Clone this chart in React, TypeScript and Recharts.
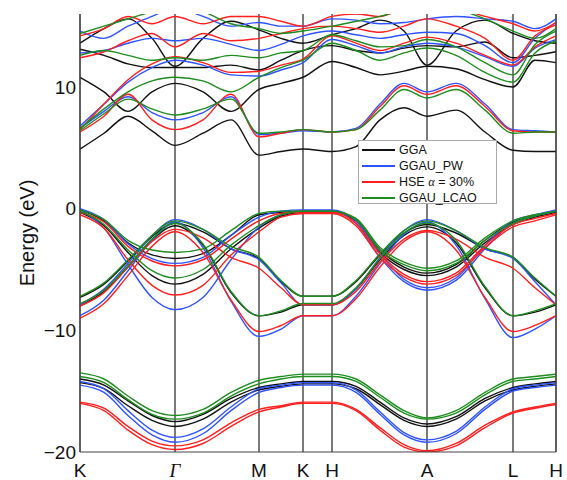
import React from "react";
import { LineChart, Line, XAxis, YAxis, ReferenceLine } from "recharts";

// k-path sample positions (arbitrary path units), high-symmetry points and labels
const kPoints = [0, 24, 48, 72, 95, 123, 151, 179, 201, 223, 252, 276, 300, 324, 347, 376, 405, 433, 455, 476];
const symPoints = [0, 95, 179, 223, 252, 347, 433, 476];
const symLabels = ["K", "Γ", "M", "K", "H", "A", "L", "H"];
const yLabelTicks = [-20, -10, 0, 10];
const yMinorTicks = [-20, -15, -10, -5, 0, 5, 10, 15];

// GGA (black)
const ggaV1 = [-14.0, -14.5, -15.8, -17.0, -17.5, -16.9, -15.6, -14.7, -14.4, -14.2, -14.2, -14.6, -15.9, -17.2, -17.7, -17.1, -15.6, -14.7, -14.4, -14.2];
const ggaV2 = [-14.3, -14.8, -16.2, -17.4, -17.9, -17.3, -15.9, -14.9, -14.6, -14.4, -14.4, -14.8, -16.1, -17.4, -17.9, -17.3, -15.8, -14.9, -14.6, -14.4];
const ggaV3 = [-7.3, -6.2, -4.3, -2.3, -1.2, -1.9, -3.3, -4.1, -6.0, -7.2, -7.2, -6.0, -3.8, -2.0, -1.3, -2.0, -3.3, -4.0, -5.8, -7.2];
const ggaV4 = [-8.0, -6.8, -4.8, -2.6, -1.4, -3.0, -6.9, -8.8, -8.5, -7.9, -7.9, -6.6, -4.2, -2.2, -1.5, -2.8, -6.5, -8.8, -8.5, -7.9];
const ggaV5 = [-0.1, -1.0, -2.8, -3.8, -4.1, -3.7, -2.2, -0.5, -0.3, -0.2, -0.2, -0.9, -3.4, -4.8, -5.3, -4.6, -2.6, -1.1, -0.6, -0.2];
const ggaV6 = [-0.3, -1.4, -3.6, -5.5, -6.2, -5.4, -3.3, -1.6, -0.6, -0.3, -0.3, -1.0, -3.6, -5.0, -5.5, -4.8, -2.8, -1.3, -0.7, -0.3];
const ggaC1 = [4.9, 6.2, 7.6, 6.4, 5.2, 6.2, 7.3, 4.4, 4.7, 4.9, 4.7, 5.1, 7.3, 8.3, 7.6, 8.1, 6.3, 4.8, 4.7, 4.7];
const ggaC2 = [10.8, 9.6, 8.0, 9.6, 10.3, 9.6, 8.0, 9.8, 10.3, 10.8, 12.1, 11.6, 11.0, 11.3, 11.7, 11.5, 10.6, 10.0, 12.2, 12.0];
const ggaC3 = [13.1, 12.6, 11.9, 11.6, 11.6, 11.6, 11.8, 11.4, 12.2, 13.0, 13.4, 13.0, 12.8, 13.2, 13.4, 13.3, 13.7, 12.4, 12.6, 12.9];
const ggaC4 = [13.6, 14.8, 15.6, 14.0, 11.7, 14.0, 15.4, 14.7, 14.0, 13.6, 14.3, 14.8, 15.5, 14.6, 11.8, 14.6, 15.5, 14.4, 13.8, 13.6];

// GGAU_PW (blue)
const pwV1 = [-14.2, -14.8, -16.6, -18.2, -18.8, -18.1, -16.3, -14.8, -14.5, -14.3, -14.3, -14.9, -16.7, -18.4, -19.0, -18.3, -16.3, -14.8, -14.5, -14.3];
const pwV2 = [-14.5, -15.1, -17.0, -18.6, -19.2, -18.5, -16.6, -15.1, -14.7, -14.5, -14.5, -15.1, -16.9, -18.6, -19.2, -18.5, -16.5, -15.0, -14.7, -14.5];
const pwV3 = [-7.9, -6.6, -4.5, -2.2, -0.9, -1.7, -3.3, -4.2, -6.1, -7.9, -7.9, -6.6, -4.0, -1.8, -0.9, -1.8, -3.3, -4.1, -6.0, -7.9];
const pwV4 = [-8.8, -7.5, -5.1, -2.6, -1.1, -3.2, -7.6, -10.5, -9.9, -8.8, -8.8, -7.2, -4.5, -2.1, -1.1, -3.0, -7.4, -10.6, -9.9, -8.8];
const pwV5 = [0.0, -0.9, -2.9, -4.1, -4.5, -4.0, -2.2, -0.7, -0.2, -0.1, -0.1, -1.0, -3.7, -5.8, -6.5, -5.7, -3.0, -1.0, -0.5, -0.1];
const pwV6 = [-0.1, -1.6, -4.6, -7.3, -8.3, -7.3, -4.2, -1.5, -0.5, -0.2, -0.2, -1.2, -4.0, -6.0, -6.7, -5.9, -3.3, -1.2, -0.6, -0.2];
const pwC1 = [6.6, 8.0, 9.2, 7.9, 7.3, 7.9, 9.2, 6.1, 6.2, 6.4, 6.3, 6.6, 8.6, 10.3, 9.6, 10.3, 8.6, 6.5, 6.4, 6.3];
const pwC2 = [6.8, 8.6, 10.4, 11.6, 12.2, 11.8, 11.0, 10.9, 11.4, 12.0, 13.9, 13.4, 12.8, 13.3, 13.6, 13.3, 12.5, 11.7, 13.2, 13.9];
const pwC3 = [12.8, 13.0, 13.6, 14.0, 13.8, 14.0, 13.5, 13.0, 13.5, 14.2, 14.6, 14.3, 14.0, 14.3, 14.5, 14.4, 13.4, 12.0, 14.0, 15.3];
const pwC4 = [14.6, 14.0, 15.0, 15.8, 16.5, 15.8, 15.0, 15.3, 15.0, 15.0, 15.6, 15.5, 15.2, 15.3, 15.6, 15.8, 15.6, 15.4, 14.8, 15.6];

// HSE alpha = 30% (red)
const hseV1 = [-15.9, -16.4, -17.9, -19.1, -19.5, -19.0, -17.6, -16.5, -16.2, -15.9, -15.9, -16.5, -18.0, -19.4, -19.9, -19.3, -17.8, -16.7, -16.3, -16.0];
const hseV2 = [-16.0, -16.6, -18.2, -19.4, -19.8, -19.3, -17.9, -16.7, -16.3, -16.0, -16.0, -16.6, -18.2, -19.6, -20.0, -19.5, -18.0, -16.8, -16.4, -16.1];
const hseV3 = [-8.0, -6.9, -4.8, -2.7, -1.7, -2.4, -4.0, -4.9, -6.5, -7.9, -7.9, -6.8, -4.4, -2.5, -1.8, -2.5, -4.0, -4.9, -6.5, -7.9];
const hseV4 = [-9.0, -7.8, -5.5, -3.1, -1.9, -3.6, -7.5, -10.1, -9.6, -8.8, -8.8, -7.4, -4.8, -2.7, -1.9, -3.4, -7.3, -10.1, -9.6, -8.8];
const hseV5 = [-0.3, -1.1, -3.1, -4.3, -4.7, -4.2, -2.5, -1.0, -0.4, -0.3, -0.3, -1.2, -3.7, -5.4, -6.0, -5.3, -3.0, -1.3, -0.8, -0.4];
const hseV6 = [-0.5, -1.6, -4.2, -6.3, -7.1, -6.3, -3.8, -1.9, -0.7, -0.4, -0.4, -1.4, -4.0, -5.6, -6.2, -5.5, -3.2, -1.5, -1.0, -0.5];
const hseC1 = [6.3, 7.6, 9.4, 7.3, 6.5, 7.3, 9.4, 5.9, 6.2, 6.5, 6.3, 6.5, 8.4, 10.1, 9.4, 10.1, 8.4, 6.4, 6.3, 6.3];
const hseC2 = [6.5, 8.6, 10.6, 11.9, 12.5, 12.0, 11.2, 11.3, 11.8, 12.3, 14.2, 13.6, 13.0, 13.6, 14.1, 13.6, 12.6, 11.8, 13.3, 14.2];
const hseC3 = [12.4, 12.9, 13.8, 14.4, 13.3, 14.4, 13.8, 14.0, 14.4, 14.8, 15.0, 14.8, 14.5, 15.0, 15.6, 15.0, 14.0, 12.2, 14.2, 15.1];
const hseC4 = [14.2, 14.8, 15.8, 15.2, 15.8, 15.2, 15.8, 15.8, 15.4, 15.0, 15.8, 16.0, 15.8, 16.4, 16.5, 16.4, 15.8, 15.2, 14.6, 15.3];

// GGAU_LCAO (green)
const lcaoV1 = [-13.5, -14.0, -15.4, -16.6, -17.0, -16.5, -15.1, -14.1, -13.8, -13.6, -13.6, -14.0, -15.3, -16.6, -17.2, -16.6, -15.1, -14.0, -13.8, -13.6];
const lcaoV2 = [-13.8, -14.3, -15.7, -16.9, -17.3, -16.8, -15.4, -14.4, -14.0, -13.8, -13.8, -14.2, -15.5, -16.8, -17.3, -16.8, -15.3, -14.2, -14.0, -13.8];
const lcaoV3 = [-7.2, -6.1, -4.2, -2.2, -1.0, -1.7, -3.1, -4.0, -5.9, -7.2, -7.2, -5.9, -3.7, -1.8, -1.0, -1.8, -3.2, -4.0, -5.7, -7.2];
const lcaoV4 = [-7.8, -6.7, -4.7, -2.5, -1.2, -2.9, -6.8, -8.8, -8.4, -7.8, -7.8, -6.5, -4.1, -2.0, -1.2, -2.6, -6.4, -8.8, -8.4, -7.8];
const lcaoV5 = [-0.1, -0.9, -2.6, -3.4, -3.6, -3.3, -1.8, -0.4, -0.2, -0.2, -0.2, -0.8, -3.2, -4.4, -4.9, -4.3, -2.4, -1.0, -0.5, -0.2];
const lcaoV6 = [-0.2, -1.3, -3.4, -5.1, -5.7, -5.0, -3.0, -1.4, -0.5, -0.2, -0.2, -0.9, -3.4, -4.6, -5.1, -4.5, -2.6, -1.2, -0.6, -0.2];
const lcaoC1 = [6.4, 7.8, 9.0, 8.2, 7.7, 8.2, 9.0, 6.2, 6.3, 6.5, 6.3, 6.5, 8.1, 9.8, 9.1, 9.8, 8.1, 6.2, 6.3, 6.3];
const lcaoC2 = [6.6, 8.2, 9.6, 10.5, 10.8, 10.5, 9.6, 10.8, 11.6, 12.2, 13.6, 13.0, 12.2, 12.8, 13.2, 12.6, 11.2, 10.4, 12.8, 13.8];
const lcaoC3 = [12.6, 13.0, 12.6, 12.2, 12.4, 12.2, 12.6, 12.4, 12.8, 13.0, 14.3, 13.8, 13.3, 13.4, 13.9, 13.3, 12.0, 11.0, 13.5, 14.6];
const lcaoC4 = [14.4, 15.0, 15.6, 16.2, 16.8, 16.2, 15.2, 14.8, 14.4, 14.6, 15.0, 15.4, 15.8, 16.4, 16.8, 16.4, 15.6, 14.6, 14.0, 14.8];

const methods = [
  { name: "GGA", color: "#111111", bands: [ggaV1, ggaV2, ggaV3, ggaV4, ggaV5, ggaV6, ggaC1, ggaC2, ggaC3, ggaC4] },
  { name: "GGAU_PW", color: "#2f52ff", bands: [pwV1, pwV2, pwV3, pwV4, pwV5, pwV6, pwC1, pwC2, pwC3, pwC4] },
  { name: "HSE", color: "#ff1f1f", bands: [hseV1, hseV2, hseV3, hseV4, hseV5, hseV6, hseC1, hseC2, hseC3, hseC4] },
  { name: "GGAU_LCAO", color: "#1e8c1e", bands: [lcaoV1, lcaoV2, lcaoV3, lcaoV4, lcaoV5, lcaoV6, lcaoC1, lcaoC2, lcaoC3, lcaoC4] },
];

const data = kPoints.map((k, i) => {
  const row: Record<string, number> = { k };
  methods.forEach((m) => m.bands.forEach((b, j) => (row[`${m.name}_${j}`] = b[i])));
  return row;
});

const font = "'Liberation Sans', Arial, Helvetica, sans-serif";

const XTick = ({ x, y, payload }: any) => {
  const label = symLabels[symPoints.indexOf(payload.value)];
  const isGamma = label === "Γ";
  return (
    <text x={x} y={y + 17} textAnchor="middle" fontSize={19} fill="#111"
      fontFamily={isGamma ? "'Liberation Serif', serif" : font} fontStyle={isGamma ? "italic" : "normal"}>
      {label}
    </text>
  );
};

const legendRows = [
  { color: "#111111", label: <>GGA</> },
  { color: "#2f52ff", label: <>GGAU_PW</> },
  { color: "#ff1f1f", label: <>HSE <i style={{ fontFamily: "'Liberation Serif', serif" }}>α</i> = 30%</> },
  { color: "#1e8c1e", label: <>GGAU_LCAO</> },
];

export default function App() {
  return (
    <div style={{ position: "absolute", left: 0, top: 0, width: 567, height: 480, background: "#fff", fontFamily: font }}>
      <LineChart width={567} height={480} data={data} margin={{ top: 14, right: 11, bottom: 0, left: 20 }}>
        <XAxis dataKey="k" type="number" domain={[0, 476]} ticks={symPoints} interval={0}
          tick={<XTick />} tickLine={false} axisLine={{ stroke: "#444" }} height={28} />
        <XAxis xAxisId="top" orientation="top" type="number" domain={[0, 476]} tick={false} tickLine={false}
          axisLine={{ stroke: "#888" }} height={0} />
        <YAxis type="number" domain={[-20, 16]} ticks={yLabelTicks} allowDataOverflow interval={0}
          tickFormatter={(v: number) => (v < 0 ? `−${Math.abs(v)}` : `${v}`)}
          tick={{ fontSize: 19, fill: "#111", fontFamily: font }} tickLine={false} tickSize={0} tickMargin={4}
          axisLine={{ stroke: "#444" }} width={60}
          label={{ value: "Energy (eV)", angle: -90, position: "insideLeft", offset: 7, style: { textAnchor: "middle", fontSize: 20, fill: "#111", fontFamily: font } }} />
        <YAxis yAxisId="minorL" orientation="left" mirror type="number" domain={[-20, 16]} ticks={yMinorTicks}
          interval={0} tick={false} tickSize={6} tickLine={{ stroke: "#444" }} axisLine={false} />
        <YAxis yAxisId="minorR" orientation="right" mirror type="number" domain={[-20, 16]} ticks={yMinorTicks}
          interval={0} tick={false} tickSize={6} tickLine={{ stroke: "#444" }} axisLine={{ stroke: "#444" }} />
        {symPoints.map((k, i) => (
          <ReferenceLine key={`sym${i}`} x={k} stroke="#222" strokeWidth={1.2} />
        ))}
        {methods.map((m) =>
          m.bands.map((_, j) => (
            <Line key={`${m.name}_${j}`} dataKey={`${m.name}_${j}`} type="monotone" stroke={m.color}
              strokeWidth={1.4} dot={false} isAnimationActive={false} />
          ))
        )}
      </LineChart>
      <div style={{ position: "absolute", left: 358, top: 140, width: 139, height: 64, background: "#fff",
        border: "1px solid #aaa", boxSizing: "border-box", padding: "1px 0 0 3px" }}>
        {legendRows.map((r, i) => (
          <div key={i} style={{ display: "flex", alignItems: "center", height: 16, fontSize: 12.5, color: "#111" }}>
            <span style={{ display: "inline-block", width: 33, height: 2, background: r.color, marginRight: 4 }} />
            <span>{r.label}</span>
          </div>
        ))}
      </div>
    </div>
  );
}
